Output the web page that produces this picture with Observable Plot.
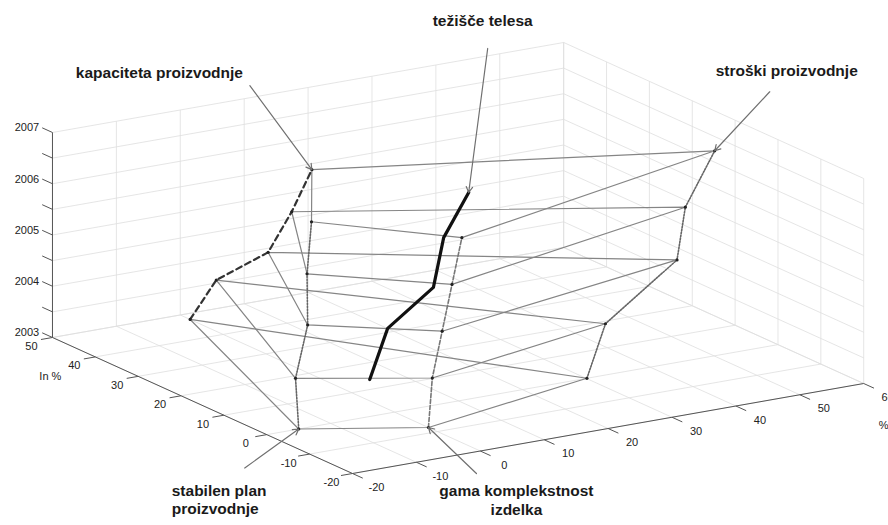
<!DOCTYPE html>
<html><head><meta charset="utf-8">
<script src="https://cdn.jsdelivr.net/npm/d3@7"></script>
<script src="https://cdn.jsdelivr.net/npm/@observablehq/plot@0.6"></script>
<style>html,body{margin:0;padding:0;background:#fff;}#chart{width:888px;height:525px;}</style>
</head><body><div id="chart"></div>
<script>
// ---- data ----
const years = [2003, 2004, 2005, 2006, 2007];
const kapaciteta = [47.7, 41.6, 29.5, 24.0, 19.3];      // +y direction
const stabilenPlan = [15.0, 15.5, 13.6, 13.7, 13.0];    // -x direction
const gamaKompleksnost = [7.9, 8.8, 11.1, 13.4, 15.7];  // -y direction
const stroski = [30.1, 33.0, 44.2, 45.5, 50.1];         // +x direction
const tezisceX = [5.3, 7.3, 9.9, 10.7, 12.0];
const tezisceY = [13.7, 12.5, 5.7, 4.5, 0.6];
const xTicks = [-20, -10, 0, 10, 20, 30, 40, 50, 60];
const yTicks = [-20, -10, 0, 10, 20, 30, 40, 50];
const zTicks = [2003, 2003.5, 2004, 2004.5, 2005, 2005.5, 2006, 2006.5, 2007];
const zTickLabels = ["2003", "", "2004", "", "2005", "", "2006", "", "2007"];
const xTitle = "%";
const yTitle = "In %";
const labelKapaciteta = "kapaciteta proizvodnje";
const labelTezisce = "težišče telesa";
const labelStroski = "stroški proizvodnje";
const labelStabilen = "stabilen plan\nproizvodnje";
const labelGama = "gama komplekstnost\nizdelka";

// ---- 3D view (orthographic, like MATLAB view) ----
const xLim = [-20, 60], yLim = [-20, 50], zLim = [2003, 2007];
const view = {o: [352, 473], ex: [6.39, -1.125], ey: [-4.286, -1.943], ez: [0, -51.25]};
function P(x, y, z) {
  const u = x - xLim[0], v = y - yLim[0], w = z - zLim[0];
  return [view.o[0] + u * view.ex[0] + v * view.ey[0] + w * view.ez[0],
          view.o[1] + u * view.ex[1] + v * view.ey[1] + w * view.ez[1]];
}
function seg(a, b, extra = {}) {
  const p = P(...a), q = P(...b);
  return {x1: p[0], y1: p[1], x2: q[0], y2: q[1], ...extra};
}
function pt(x, y, z, extra = {}) { const p = P(x, y, z); return {px: p[0], py: p[1], ...extra}; }

// grid
const grid = [];
for (const x of xTicks) { grid.push(seg([x, yLim[0], zLim[0]], [x, yLim[1], zLim[0]])); grid.push(seg([x, yLim[1], zLim[0]], [x, yLim[1], zLim[1]])); }
for (const y of yTicks) { grid.push(seg([xLim[0], y, zLim[0]], [xLim[1], y, zLim[0]])); grid.push(seg([xLim[1], y, zLim[0]], [xLim[1], y, zLim[1]])); }
for (const z of zTicks) { grid.push(seg([xLim[0], yLim[1], z], [xLim[1], yLim[1], z])); grid.push(seg([xLim[1], yLim[0], z], [xLim[1], yLim[1], z])); }

const axes = [
  seg([xLim[0], yLim[0], zLim[0]], [xLim[1], yLim[0], zLim[0]]),
  seg([xLim[0], yLim[0], zLim[0]], [xLim[0], yLim[1], zLim[0]]),
  seg([xLim[0], yLim[1], zLim[0]], [xLim[0], yLim[1], zLim[1]])
];
const tk = 2.4;
const ticks = [
  ...xTicks.map(x => seg([x, yLim[0], zLim[0]], [x, yLim[0] - tk, zLim[0]])),
  ...yTicks.map(y => seg([xLim[0], y, zLim[0]], [xLim[0] - tk * 0.75, y, zLim[0]])),
  ...zTicks.map(z => seg([xLim[0], yLim[1], z], [xLim[0], yLim[1] + tk, z]))
];
const xLabels = xTicks.map(x => pt(x, yLim[0], zLim[0], {t: String(x)}));
const yLabels = yTicks.map(y => pt(xLim[0], y, zLim[0], {t: String(y)}));
const zLabels = zTicks.map((z, i) => pt(xLim[0], yLim[1] + tk, z, {t: zTickLabels[i]}));

// corners of each year's polygon
const corner = {
  A: i => [0, kapaciteta[i], years[i]],
  B: i => [-stabilenPlan[i], 0, years[i]],
  C: i => [0, -gamaKompleksnost[i], years[i]],
  D: i => [stroski[i], 0, years[i]]
};
const quads = [];
years.forEach((yr, i) => {
  ["A", "B", "C", "D", "A"].forEach((k, j) => quads.push(pt(...corner[k](i), {year: yr, j})));
});
const seriesPts = k => years.map((yr, i) => pt(...corner[k](i), {year: yr}));
const sA = seriesPts("A"), sB = seriesPts("B"), sC = seriesPts("C"), sD = seriesPts("D");
const sT = years.map((yr, i) => pt(tezisceX[i], tezisceY[i], yr, {year: yr}));
const dots = [...sA, ...sB, ...sC, ...sD];

// annotations: arrow from (target + offset) to target, label offset from target
const last = years.length - 1;
const annos = [
  {target: sA[last], start: [-62, -84], text: labelKapaciteta, at: [-236, -98], anchor: "start", inset: 2},
  {target: sT[last], start: [19, -144], text: labelTezisce, at: [14, -172], anchor: "middle", inset: 8},
  {target: sD[last], start: [55, -59], text: labelStroski, at: [72, -81], anchor: "middle", inset: 2},
  {target: sB[0], start: [-54, 39], text: labelStabilen, at: [-127, 70], anchor: "start", inset: 2},
  {target: sC[0], start: [48, 46], text: labelGama, at: [88, 72], anchor: "middle", inset: 2}
].map(a => ({...a, x1: a.target.px + a.start[0], y1: a.target.py + a.start[1], x2: a.target.px, y2: a.target.py,
             tx: a.target.px + a.at[0], ty: a.target.py + a.at[1]}));

const font = "Liberation Sans, Arial, Helvetica, sans-serif";
const labelOpts = {x: "tx", y: "ty", text: "text", lineAnchor: "middle", lineHeight: 1.2, fontSize: 15.5, fontWeight: "bold", fill: "#1a1a1a"};
const chart = Plot.plot({
  width: 888, height: 525, margin: 0,
  x: {domain: [0, 888], axis: null},
  y: {domain: [525, 0], axis: null},
  style: {fontFamily: font, background: "#fff"},
  marks: [
    Plot.link(grid, {x1: "x1", y1: "y1", x2: "x2", y2: "y2", stroke: "#dedede", strokeWidth: 0.8}),
    Plot.link(axes, {x1: "x1", y1: "y1", x2: "x2", y2: "y2", stroke: "#555", strokeWidth: 1}),
    Plot.link(ticks, {x1: "x1", y1: "y1", x2: "x2", y2: "y2", stroke: "#555", strokeWidth: 1}),
    Plot.text(xLabels, {x: "px", y: "py", text: "t", dx: 24, dy: 14, fontSize: 11, fill: "#222"}),
    Plot.text(yLabels, {x: "px", y: "py", text: "t", dx: -21, dy: 9, fontSize: 11, fill: "#222"}),
    Plot.text(zLabels, {x: "px", y: "py", text: "t", dx: -3, dy: 0, textAnchor: "end", fontSize: 11, fill: "#222"}),
    Plot.text([pt(xLim[1], yLim[0], zLim[0])], {x: "px", y: "py", text: () => xTitle, dx: 20, dy: 42, fontSize: 11, fill: "#222"}),
    Plot.text([pt(xLim[0], 40, zLim[0])], {x: "px", y: "py", text: () => yTitle, dx: -45, dy: 20, fontSize: 11, fill: "#222"}),
    Plot.line(quads, {x: "px", y: "py", z: "year", stroke: "#858585", strokeWidth: 1.2}),
    Plot.line(sB, {x: "px", y: "py", stroke: "#666", strokeWidth: 1.6, strokeDasharray: "1.5,1.5"}),
    Plot.line(sD, {x: "px", y: "py", stroke: "#666", strokeWidth: 1.6, strokeDasharray: "1.5,1.5"}),
    Plot.line(sC, {x: "px", y: "py", stroke: "#777", strokeWidth: 1.6, strokeDasharray: "4,2"}),
    Plot.line(sA, {x: "px", y: "py", stroke: "#333", strokeWidth: 2.2, strokeDasharray: "6,4"}),
    Plot.line(sT, {x: "px", y: "py", stroke: "#111", strokeWidth: 3.2}),
    Plot.dot(dots, {x: "px", y: "py", r: 1.6, fill: "#222", stroke: null}),
    Plot.arrow(annos, {x1: "x1", y1: "y1", x2: "x2", y2: "y2", insetEnd: d => d.inset, stroke: "#707070", strokeWidth: 1.2, headLength: 8}),
    Plot.text(annos.filter(a => a.anchor === "start"), {...labelOpts, textAnchor: "start"}),
    Plot.text(annos.filter(a => a.anchor === "middle"), {...labelOpts, textAnchor: "middle"})
  ]
});
document.getElementById("chart").appendChild(chart);
</script>
</body></html>
